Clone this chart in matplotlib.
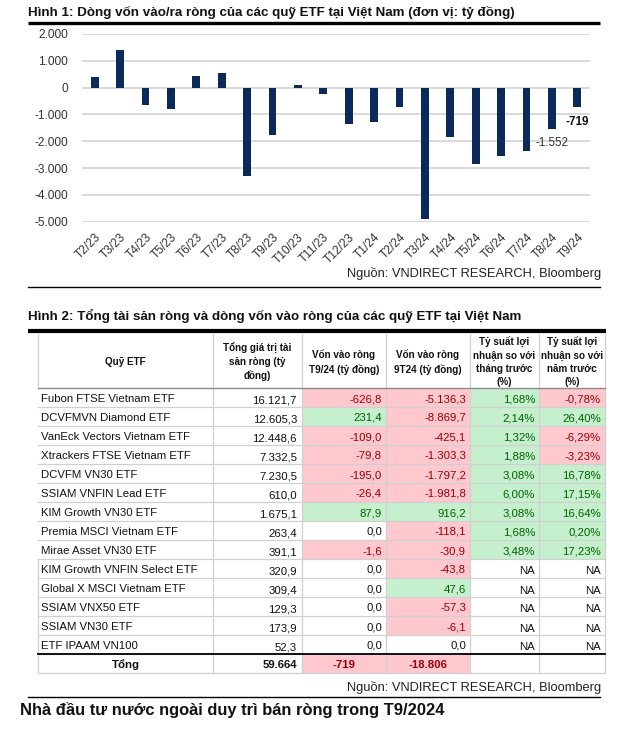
import matplotlib
matplotlib.use("Agg")
import matplotlib.pyplot as plt
from matplotlib.patches import Rectangle
from matplotlib.ticker import FuncFormatter

plt.rcParams['font.family'] = ['Liberation Sans', 'DejaVu Sans']

# ---------------- Data ----------------
months = ["T2/23", "T3/23", "T4/23", "T5/23", "T6/23", "T7/23", "T8/23", "T9/23",
          "T10/23", "T11/23", "T12/23", "T1/24", "T2/24", "T3/24", "T4/24", "T5/24",
          "T6/24", "T7/24", "T8/24", "T9/24"]
flows = [380, 1400, -650, -800, 450, 540, -3290, -1780, 110, -230, -1370, -1290,
         -720, -4890, -1850, -2840, -2560, -2380, -1552, -719]

funds = ["Fubon FTSE Vietnam ETF", "DCVFMVN Diamond ETF", "VanEck Vectors Vietnam ETF",
         "Xtrackers FTSE Vietnam ETF", "DCVFM VN30 ETF", "SSIAM VNFIN Lead ETF",
         "KIM Growth VN30 ETF", "Premia MSCI Vietnam ETF", "Mirae Asset VN30 ETF",
         "KIM Growth VNFIN Select ETF", "Global X MSCI Vietnam ETF", "SSIAM VNX50 ETF",
         "SSIAM VN30 ETF", "ETF IPAAM VN100"]
nav = [16121.7, 12605.3, 12448.6, 7332.5, 7230.5, 610.0, 1675.1, 263.4, 391.1,
       320.9, 309.4, 129.3, 173.9, 52.3]
flow_t9 = [-626.8, 231.4, -109.0, -79.8, -195.0, -26.4, 87.9, 0.0, -1.6,
           0.0, 0.0, 0.0, 0.0, 0.0]
flow_9t = [-5136.3, -8869.7, -425.1, -1303.3, -1797.2, -1981.8, 916.2, -118.1, -30.9,
           -43.8, 47.6, -57.3, -6.1, 0.0]
ret_m = [1.68, 2.14, 1.32, 1.88, 3.08, 6.00, 3.08, 1.68, 3.48,
         None, None, None, None, None]
ret_y = [-0.78, 26.40, -6.29, -3.23, 16.78, 17.15, 16.64, 0.20, 17.23,
         None, None, None, None, None]
total_nav = "59.664"
total_t9 = -719
total_9t = -18806

headers = ["Quỹ ETF", "Tổng giá trị tài\nsản ròng (tỷ\nđồng)", "Vốn vào ròng\nT9/24 (tỷ đồng)",
           "Vốn vào ròng\n9T24 (tỷ đồng)", "Tỷ suất lợi\nnhuận so với\ntháng trước\n(%)",
           "Tỷ suất lợi\nnhuận so với\nnăm trước\n(%)"]

title1 = "Hình 1: Dòng vốn vào/ra ròng của các quỹ ETF tại Việt Nam (đơn vị: tỷ đồng)"
title2 = "Hình 2: Tổng tài sản ròng và dòng vốn vào ròng của các quỹ ETF tại Việt Nam"
source = "Nguồn: VNDIRECT RESEARCH, Bloomberg"
heading = "Nhà đầu tư nước ngoài duy trì bán ròng trong T9/2024"


def vn(x, nd=1):
    s = f"{abs(x):,.{nd}f}".replace(",", "X").replace(".", ",").replace("X", ".")
    return ("-" if x < 0 else "") + s


# ---------------- Figure ----------------
W, H = 633, 742
fig = plt.figure(figsize=(W / 100, H / 100), dpi=100)
fig.patch.set_facecolor("white")

bg = fig.add_axes([0, 0, 1, 1])
bg.set_xlim(0, W)
bg.set_ylim(H, 0)
bg.axis("off")

NAVY = "#0B2A5B"
RED_BG, RED_TX = "#FFC7CE", "#9C0006"
GRN_BG, GRN_TX = "#C6EFCE", "#006100"
GRID = "#D0D0D0"
TXT = "#111111"

# Title 1 and rule
bg.text(28, 12, title1, fontsize=9.6, fontweight="bold", va="center", ha="left", color=TXT)
bg.plot([28, 600], [23, 23], color="black", lw=2.4, solid_capstyle="butt")

# ---------------- Bar chart ----------------
ax_l, ax_r, ax_t, ax_b = 82, 590, 34, 221.7
ax = fig.add_axes([ax_l / W, 1 - ax_b / H, (ax_r - ax_l) / W, (ax_b - ax_t) / H])
x = list(range(len(months)))
ax.bar(x, flows, width=0.3, color=NAVY, zorder=3)
ax.set_xlim(-0.5, len(months) - 0.5)
ax.set_ylim(-5000, 2000)
ax.set_yticks([2000, 1000, 0, -1000, -2000, -3000, -4000, -5000])
ax.yaxis.set_major_formatter(FuncFormatter(lambda v, p: vn(v, 0)))
ax.grid(axis="y", color=GRID, lw=1.1, zorder=0)
for s in ax.spines.values():
    s.set_visible(False)
ax.tick_params(axis="both", length=0, labelsize=8.6, colors="#333333")
ax.tick_params(axis="y", pad=10)
ax.set_xticks(x)
ax.set_xticklabels(months, rotation=45, ha="right", va="top", rotation_mode="anchor")
ax.tick_params(axis="x", pad=7)
ax.annotate(vn(flows[-1], 0), (x[-1], flows[-1]), xytext=(0, -11), textcoords="offset points",
            ha="center", va="center", fontsize=8.4, fontweight="bold", color=TXT)
ax.annotate(vn(flows[-2], 0), (x[-2], flows[-2]), xytext=(0, -10), textcoords="offset points",
            ha="center", va="center", fontsize=8.4, color="#333333")

bg.text(601, 274, source, fontsize=9.3, ha="right", va="center", color="#222222")
bg.plot([28, 600], [287, 287], color="black", lw=1.0)

# ---------------- Table ----------------
bg.text(28, 316, title2, fontsize=9.6, fontweight="bold", va="center", ha="left", color=TXT)
bg.plot([28, 606], [331, 331], color="black", lw=3.0, solid_capstyle="butt")

cx = [38, 213, 302, 386, 470, 539, 605]
head_top, head_bot = 333, 388
rh = 19
n = len(funds)
tot_top = head_bot + rh * n
tot_bot = tot_top + rh
FS = 8.2


def cell_fill(c, top, val):
    if val is None or val == 0:
        return None
    col = RED_BG if val < 0 else GRN_BG
    bg.add_patch(Rectangle((cx[c], top), cx[c + 1] - cx[c], rh, facecolor=col, edgecolor="none", zorder=1))
    return RED_TX if val < 0 else GRN_TX


for c, h in enumerate(headers):
    bg.text((cx[c] + cx[c + 1]) / 2, (head_top + head_bot) / 2 + 1.5, h, fontsize=7.1, fontweight="bold",
            ha="center", va="center", linespacing=1.36, color=TXT)

for i in range(n):
    top = head_bot + rh * i
    yc = top + rh / 2
    bg.text(cx[0] + 3, yc + 1.5, funds[i], fontsize=FS, ha="left", va="center", color=TXT)
    bg.text(cx[2] - 5, yc + 3, vn(nav[i]), fontsize=FS, ha="right", va="center", color=TXT)
    for c, v, fmt in [(2, flow_t9[i], vn(flow_t9[i])), (3, flow_9t[i], vn(flow_9t[i]))]:
        tc = cell_fill(c, top, v) or TXT
        bg.text(cx[c + 1] - 4, yc + 1.5, fmt, fontsize=FS, ha="right", va="center", color=tc, zorder=3)
    for c, v in [(4, ret_m[i]), (5, ret_y[i])]:
        if v is None:
            bg.text(cx[c + 1] - 4, yc + 3, "NA", fontsize=FS, ha="right", va="center", color=TXT)
        else:
            tc = cell_fill(c, top, v if v != 0 else 1e-9)
            bg.text(cx[c + 1] - 4, yc + 2, vn(v, 2) + "%", fontsize=FS, ha="right", va="center",
                    color=tc, zorder=3)

# total row
bg.add_patch(Rectangle((cx[2], tot_top), cx[4] - cx[2], rh, facecolor=RED_BG, edgecolor="none", zorder=1))
yc = tot_top + rh / 2 + 1
bg.text((cx[0] + cx[1]) / 2, yc, "Tổng", fontsize=FS, fontweight="bold", ha="center", va="center", color=TXT)
bg.text(cx[2] - 5, yc, total_nav, fontsize=FS, fontweight="bold", ha="right", va="center", color=TXT)
bg.text((cx[2] + cx[3]) / 2, yc, vn(total_t9, 0), fontsize=FS, fontweight="bold", ha="center", va="center", color=RED_TX)
bg.text((cx[3] + cx[4]) / 2, yc, vn(total_9t, 0), fontsize=FS, fontweight="bold", ha="center", va="center", color=RED_TX)

# grid lines
for j, xv in enumerate(cx):
    if j == 0:
        bg.plot([xv, xv], [head_top, head_bot], color=GRID, lw=0.9, zorder=2)
        bg.plot([xv, xv], [head_bot + rh * 9, tot_bot], color=GRID, lw=0.9, zorder=2)
    else:
        bg.plot([xv, xv], [head_top, tot_bot], color=GRID, lw=0.9, zorder=2)
for k in range(1, n + 1):
    yv = head_bot + rh * k
    bg.plot([cx[0], cx[-1]], [yv, yv], color=GRID, lw=0.9, zorder=2)
bg.plot([cx[0], cx[-1]], [head_bot, head_bot], color="#8C8C8C", lw=1.0, zorder=3)
bg.plot([cx[0], cx[-1]], [tot_bot, tot_bot], color=GRID, lw=0.9, zorder=2)
bg.plot([cx[0], cx[-1]], [tot_top, tot_top], color="black", lw=1.3, zorder=3)

bg.text(601, 688, source, fontsize=9.3, ha="right", va="center", color="#222222")
bg.plot([28, 600], [697, 697], color="black", lw=1.0)
bg.text(20, 710, heading, fontsize=11.9, fontweight="bold", ha="left", va="center", color=TXT)

fig.savefig("out.png", dpi=100, facecolor="white")
